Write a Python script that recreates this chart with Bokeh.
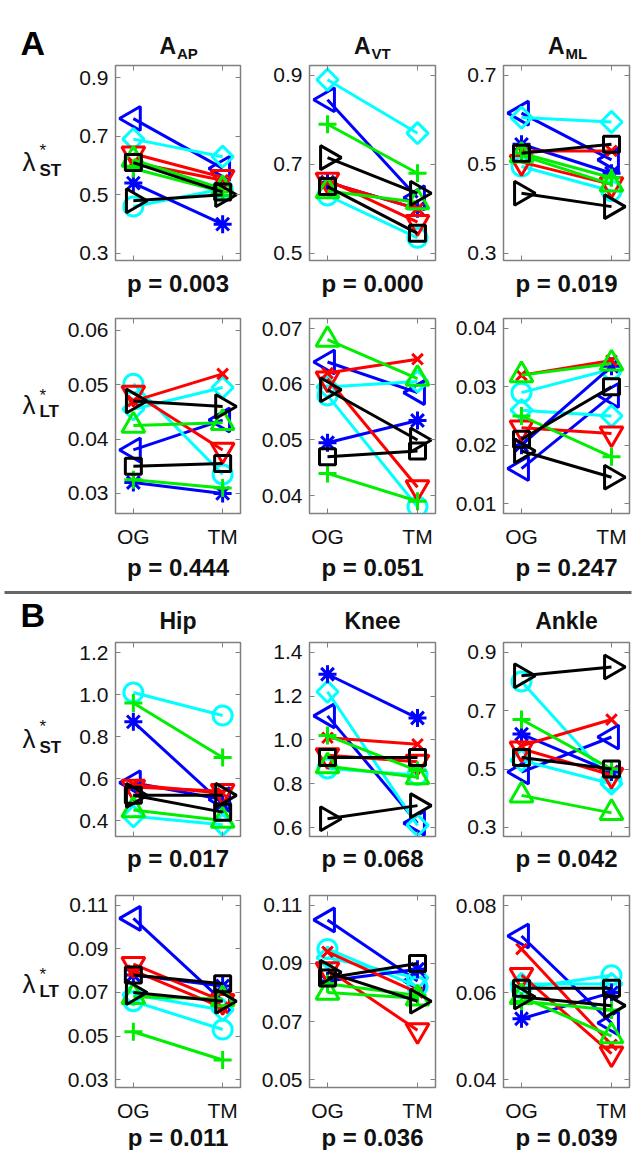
import math
from bokeh.plotting import figure
from bokeh.models import FixedTicker, PrintfTickFormatter, LinearAxis, Range1d
from bokeh.core.properties import value
from bokeh.layouts import column, row
from bokeh.embed import file_html
from bokeh.resources import INLINE

# ---------------- data ----------------
CATEGORIES = ["OG", "TM"]
SUBJECTS = ["S1", "S2", "S3", "S4", "S5", "S6", "S7", "S8", "S9", "S10"]

# Section A, short-term exponent (lambda*_ST)
AP_ST_OG = [0.76, 0.46, 0.69, 0.54, 0.64, 0.61, 0.62, 0.59, 0.61, 0.48]
AP_ST_TM = [0.59, 0.52, 0.63, 0.40, 0.56, 0.55, 0.52, 0.51, 0.51, 0.50]
VT_ST_OG = [0.845, 0.63, 0.89, 0.66, 0.665, 0.66, 0.64, 0.79, 0.65, 0.715]
VT_ST_TM = [0.625, 0.535, 0.77, 0.60, 0.57, 0.60, 0.615, 0.68, 0.545, 0.635]
ML_ST_OG = [0.615, 0.495, 0.605, 0.545, 0.505, 0.53, 0.52, 0.525, 0.525, 0.435]
ML_ST_TM = [0.51, 0.44, 0.595, 0.48, 0.455, 0.53, 0.455, 0.47, 0.545, 0.405]
# Section A, long-term exponent (lambda*_LT)
AP_LT_OG = [0.038, 0.0502, 0.0455, 0.032, 0.0485, 0.047, 0.0425, 0.0325, 0.035, 0.047]
AP_LT_TM = [0.0435, 0.0335, 0.0495, 0.030, 0.038, 0.052, 0.043, 0.031, 0.0355, 0.046]
VT_LT_OG = [0.064, 0.058, 0.0595, 0.0495, 0.061, 0.062, 0.068, 0.044, 0.047, 0.059]
VT_LT_TM = [0.0585, 0.038, 0.0605, 0.0535, 0.0415, 0.0645, 0.061, 0.039, 0.048, 0.050]
ML_LT_OG = [0.016, 0.029, 0.026, 0.020, 0.023, 0.032, 0.032, 0.025, 0.021, 0.019]
ML_LT_TM = [0.0285, 0.033, 0.025, 0.0335, 0.022, 0.0345, 0.034, 0.018, 0.030, 0.0145]
# Section B, short-term exponent
HIP_ST_OG = [0.58, 1.01, 0.42, 0.87, 0.56, 0.57, 0.45, 0.96, 0.52, 0.52]
HIP_ST_TM = [0.50, 0.90, 0.38, 0.48, 0.54, 0.53, 0.40, 0.70, 0.44, 0.52]
KNEE_ST_OG = [1.11, 0.87, 1.22, 1.30, 0.93, 1.01, 0.88, 1.02, 0.92, 0.64]
KNEE_ST_TM = [0.62, 0.84, 0.61, 1.10, 0.90, 0.98, 0.83, 0.86, 0.92, 0.70]
ANKLE_ST_OG = [0.49, 0.80, 0.53, 0.62, 0.57, 0.58, 0.41, 0.67, 0.54, 0.82]
ANKLE_ST_TM = [0.61, 0.46, 0.45, 0.49, 0.48, 0.67, 0.35, 0.50, 0.50, 0.85]
# Section B, long-term exponent
HIP_LT_OG = [0.104, 0.066, 0.069, 0.078, 0.083, 0.080, 0.068, 0.052, 0.078, 0.070]
HIP_LT_TM = [0.066, 0.053, 0.062, 0.073, 0.066, 0.063, 0.067, 0.039, 0.074, 0.066]
KNEE_LT_OG = [0.105, 0.095, 0.092, 0.084, 0.088, 0.094, 0.080, 0.083, 0.085, 0.087]
KNEE_LT_TM = [0.084, 0.082, 0.085, 0.088, 0.067, 0.080, 0.078, 0.079, 0.090, 0.077]
ANKLE_LT_OG = [0.073, 0.061, 0.062, 0.054, 0.064, 0.070, 0.059, 0.058, 0.061, 0.059]
ANKLE_LT_TM = [0.053, 0.064, 0.062, 0.060, 0.046, 0.048, 0.050, 0.056, 0.061, 0.057]

P_VALUES = [["0.003", "0.000", "0.019"],
            ["0.444", "0.051", "0.247"],
            ["0.017", "0.068", "0.042"],
            ["0.011", "0.036", "0.039"]]

Y_LIMITS = [[(0.276, 0.941), (0.484, 0.922), (0.284, 0.722)],
            [(0.0263, 0.0622), (0.0368, 0.0718), (0.0083, 0.0417)],
            [(0.324, 1.248), (0.559, 1.445), (0.269, 0.934)],
            [(0.0264, 0.1145), (0.0473, 0.1134), (0.0382, 0.0823)]]
Y_TICKS = [[[0.3, 0.5, 0.7, 0.9], [0.5, 0.7, 0.9], [0.3, 0.5, 0.7]],
           [[0.03, 0.04, 0.05, 0.06], [0.04, 0.05, 0.06, 0.07], [0.01, 0.02, 0.03, 0.04]],
           [[0.4, 0.6, 0.8, 1.0, 1.2], [0.6, 0.8, 1.0, 1.2, 1.4], [0.3, 0.5, 0.7, 0.9]],
           [[0.03, 0.05, 0.07, 0.09, 0.11], [0.05, 0.07, 0.09, 0.11], [0.04, 0.06, 0.08]]]
Y_FORMATS = ["%.1f", "%.2f", "%.1f", "%.2f"]

TITLES_A_MAIN = ["A", "A", "A"]
TITLES_A_SUB = ["AP", "VT", "ML"]
TITLES_B = ["Hip", "Knee", "Ankle"]
ROW_LABEL_SUB = ["ST", "LT", "ST", "LT"]

PANEL_DATA = [[(AP_ST_OG, AP_ST_TM), (VT_ST_OG, VT_ST_TM), (ML_ST_OG, ML_ST_TM)],
              [(AP_LT_OG, AP_LT_TM), (VT_LT_OG, VT_LT_TM), (ML_LT_OG, ML_LT_TM)],
              [(HIP_ST_OG, HIP_ST_TM), (KNEE_ST_OG, KNEE_ST_TM), (ANKLE_ST_OG, ANKLE_ST_TM)],
              [(HIP_LT_OG, HIP_LT_TM), (KNEE_LT_OG, KNEE_LT_TM), (ANKLE_LT_OG, ANKLE_LT_TM)]]

# ---------------- styles / layout ----------------
BLUE, CYAN, RED, GREEN, BLACK = "#0000ff", "#00ffff", "#ff0000", "#00ee00", "#000000"
COLORS = [BLUE, CYAN, CYAN, BLUE, RED, RED, GREEN, GREEN, BLACK, BLACK]
MARKERS = ["triangle", "circle", "square", "asterisk", "inverted_triangle",
           "x", "triangle", "cross", "square", "triangle"]
ANGLES = [math.pi / 2, 0, math.pi / 4, 0, 0, 0, 0, 0, 0, -math.pi / 2]
SIZES = [24, 19, 15, 18, 23, 15, 23, 18, 16, 24]

GRAY = "#808080"
TXT = "#111111"
FONT = "Liberation Sans"
TICK_FS = "21px"

ROW_BT = [3, 13, 3, 17]
ROW_FH = [195, 195, 194, 195]
ROW_BB = [3, 40, 3, 34]
LAM_W = 63
COL_BL = [52, 59, 58]
COL_FW = [125, 126, 126]
COL_BR = [10, 10, 6]
TOTAL_W = LAM_W + sum(COL_BL) + sum(COL_FW) + sum(COL_BR)

# frame centres (x, in strip pixels)
CENTERS = []
_x = LAM_W
for _c in range(3):
    CENTERS.append(_x + COL_BL[_c] + COL_FW[_c] / 2)
    _x += COL_BL[_c] + COL_FW[_c] + COL_BR[_c]


def strip(height, width=TOTAL_W):
    f = figure(width=width, height=height, x_range=Range1d(0, width), y_range=Range1d(height, 0),
               x_axis_type=None, y_axis_type=None,
               output_backend="svg", toolbar_location=None,
               min_border_left=0, min_border_right=0, min_border_top=0, min_border_bottom=0)
    f.grid.visible = False
    f.outline_line_color = None
    f.background_fill_color = "white"
    f.border_fill_color = "white"
    return f


def put(f, x, y, t, size, bold=False, align="left", color=TXT):
    # y is the vertical centre of the text
    f.text(x=[x], y=[y], text=[t], text_font=value(FONT), text_font_size=value(size),
           text_font_style="bold" if bold else "normal", text_align=align,
           text_baseline="middle", text_color=color)


def hide_labels(ax):
    ax.major_label_text_color = None
    ax.major_label_text_font_size = "1px"
    ax.major_label_standoff = 0


def make_panel(r, c):
    og, tm = PANEL_DATA[r][c]
    p = figure(width=COL_BL[c] + COL_FW[c] + COL_BR[c],
               height=ROW_BT[r] + ROW_FH[r] + ROW_BB[r],
               x_range=Range1d(0.8, 2.2), y_range=Range1d(*Y_LIMITS[r][c]),
               output_backend="svg", toolbar_location=None,
               min_border_left=COL_BL[c], min_border_right=COL_BR[c],
               min_border_top=ROW_BT[r], min_border_bottom=ROW_BB[r])
    p.grid.visible = False
    p.outline_line_color = GRAY
    p.outline_line_width = 1.5
    p.background_fill_color = "white"
    p.border_fill_color = "white"
    xpos = [i + 1 for i in range(len(CATEGORIES))]

    for ax in p.xaxis:
        ax.ticker = FixedTicker(ticks=xpos)
        ax.major_label_overrides = {x: s for x, s in zip(xpos, CATEGORIES)}
        ax.major_label_text_font = FONT
        ax.major_label_text_font_size = TICK_FS
        ax.major_label_text_color = TXT
        ax.major_label_standoff = 11
        if r not in (1, 3):
            hide_labels(ax)
    for ax in p.yaxis:
        ax.ticker = FixedTicker(ticks=Y_TICKS[r][c])
        ax.formatter = PrintfTickFormatter(format=Y_FORMATS[r])
        ax.major_label_text_font = FONT
        ax.major_label_text_font_size = TICK_FS
        ax.major_label_text_color = TXT
        ax.major_label_standoff = 7

    right = LinearAxis(ticker=FixedTicker(ticks=Y_TICKS[r][c]))
    top = LinearAxis(ticker=FixedTicker(ticks=xpos))
    hide_labels(right)
    hide_labels(top)
    p.add_layout(right, "right")
    p.add_layout(top, "above")
    for ax in p.axis:
        ax.major_tick_in = 5
        ax.major_tick_out = 0
        ax.minor_tick_line_color = None
        ax.axis_line_color = GRAY
        ax.major_tick_line_color = GRAY

    for i in range(len(SUBJECTS)):
        ys = [og[i], tm[i]]
        p.line(xpos, ys, line_color=COLORS[i], line_width=3)
        p.scatter(xpos, ys, marker=MARKERS[i], size=SIZES[i], angle=ANGLES[i],
                  line_color=COLORS[i], fill_color=None, line_width=3)
    return p


def lambda_fig(r):
    h = ROW_BT[r] + ROW_FH[r] + ROW_BB[r]
    f = strip(h, LAM_W)
    yc = ROW_BT[r] + ROW_FH[r] / 2
    put(f, 22, yc - 1, "λ", "26px")
    put(f, 39, yc - 13, "*", "17px")
    put(f, 39, yc + 8, ROW_LABEL_SUB[r], "17px", bold=True)
    return f


def pvalue_strip(r, height, yc):
    f = strip(height)
    for c in range(3):
        put(f, CENTERS[c], yc, "p = " + P_VALUES[r][c], "24px", bold=True, align="center")
    return f


# header A
head_a = strip(62)
put(head_a, 20, 42, "A", "34px", bold=True, color="#000000")
for c in range(3):
    put(head_a, CENTERS[c] - 2, 45, TITLES_A_MAIN[c], "23px", bold=True, align="right")
    put(head_a, CENTERS[c] - 1, 53, TITLES_A_SUB[c], "15px", bold=True)

# divider + header B
head_b = strip(54)
head_b.segment(x0=[4], y0=[7], x1=[TOTAL_W - 4], y1=[7], line_color="#666666", line_width=3)
put(head_b, 20, 29, "B", "34px", bold=True, color="#000000")
for c in range(3):
    put(head_b, CENTERS[c], 35, TITLES_B[c], "23px", bold=True, align="center")

panel_rows = [row(lambda_fig(r), *[make_panel(r, c) for c in range(3)]) for r in range(4)]

layout = column(
    head_a,
    panel_rows[0], pvalue_strip(0, 42, 20),
    panel_rows[1], pvalue_strip(1, 32, 14),
    head_b,
    panel_rows[2], pvalue_strip(2, 39, 19),
    panel_rows[3], pvalue_strip(3, 26, 13),
)
open("out.html", "w").write(file_html(layout, INLINE))
